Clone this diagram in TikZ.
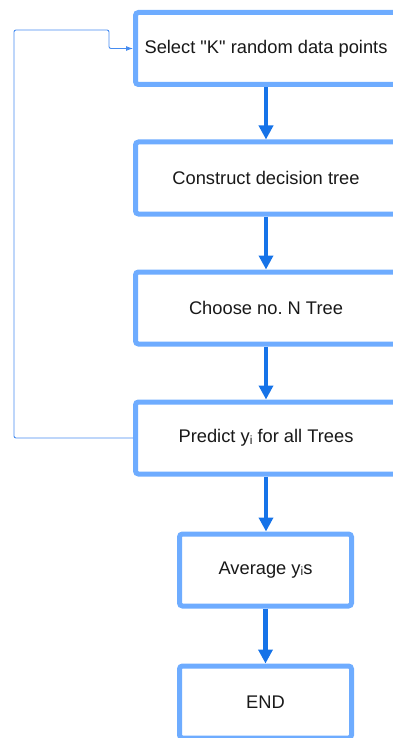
\documentclass[tikz,border=0pt]{standalone}
\usepackage{fontspec}
\setmainfont{Liberation Sans}[Ligatures=TeXOff]
\usetikzlibrary{arrows.meta}
\definecolor{boxblue}{RGB}{110,172,255}
\definecolor{arrblue}{RGB}{22,115,232}
\definecolor{loopblue}{RGB}{70,140,240}
\newcommand{\ysub}{y\raisebox{-1.5pt}{\fontsize{12}{12}\selectfont i}}
\begin{document}
\begin{tikzpicture}[x=1pt,y=-1pt,
  stepbox/.style={draw=boxblue,line width=5pt,rounded corners=3pt,fill=white,
    minimum height=72pt,inner sep=0pt,font=\fontsize{18.3}{22}\selectfont,text=black!90},
  widebox/.style={stepbox,minimum width=261pt},
  narrowbox/.style={stepbox,minimum width=172pt},
  flow/.style={draw=arrblue,line width=4.5pt,-{Triangle[width=14pt,length=14pt]}},
  loop/.style={draw=loopblue,line width=0.9pt,rounded corners=2pt,-{Latex[width=5pt,length=7pt]}}]
\useasboundingbox (0,0) rectangle (392,738);
\node[widebox] (b1) at (266,48.5) {Select "K" random data points};
\node[widebox] (b2) at (266,178) {Construct decision tree};
\node[widebox] (b3) at (266,308) {Choose no.\ N Tree};
\node[widebox] (b4) at (266,438) {Predict \ysub\ for all Trees};
\node[narrowbox] (b5) at (265.5,570) {Average \ysub s};
\node[narrowbox] (b6) at (265.5,702) {END};
\draw[flow] (b1.south) -- (b2.north);
\draw[flow] (b2.south) -- (b3.north);
\draw[flow] (b3.south) -- (b4.north);
\draw[flow] (b4.south) -- (b5.north -| b4.south);
\draw[flow] (b5.south) -- (b6.north);
\draw[loop] (b4.west) -- (14,438) -- (14,30) -- (109,30) -- (109,48.5) -- (b1.west);
\end{tikzpicture}
\end{document}
